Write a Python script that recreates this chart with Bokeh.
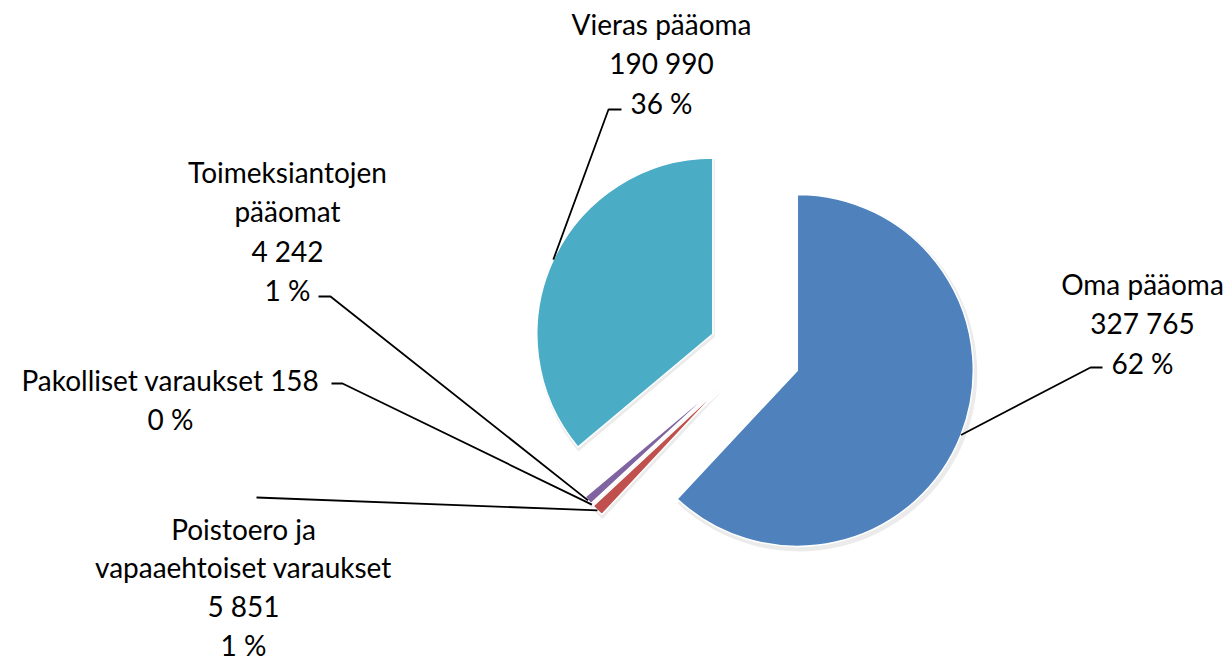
import math
from bokeh.plotting import figure
from bokeh.models import Range1d, ColumnDataSource
from bokeh.core.properties import value
from bokeh.embed import file_html
from bokeh.resources import INLINE

# ---- data ----
categories = ["Oma pääoma", "Poistoero ja vapaaehtoiset varaukset",
              "Pakolliset varaukset", "Toimeksiantojen pääomat", "Vieras pääoma"]
values = [327765, 5851, 158, 4242, 190990]
label_name_lines = [["Oma pääoma"], ["Poistoero ja", "vapaaehtoiset varaukset"],
                    ["Pakolliset varaukset"], ["Toimeksiantojen", "pääomat"],
                    ["Vieras pääoma"]]
value_on_name_line = [False, False, True, False, False]
colors = ["#4F81BD", "#C0504D", "#9BBB59", "#8064A2", "#4BACC6"]

# ---- layout (screen px, y down) ----
W, H = 1232, 661
CX, CY = 754, 353
R = 176
EXPLODE = 46
FONT = "Lato"
FS = "28px"
LINE_H = [39.5, 38.8, 39.5, 39.5, 39.5]
label_centers = [(1142, 283), (243, 528), (170, 379), (287, 171), (661, 23)]
# leader path start points (label side) incl. elbow
leader_starts = [[(1102, 367), (1090, 367)],
                 [(256, 497)],
                 [(331, 383), (342, 383)],
                 [(318, 296), (330, 296)],
                 [(621, 109), (608, 109)]]

def fmt(v):
    return f"{v:,}".replace(",", " ")

total = sum(values)
p = figure(width=W, height=H, output_backend="svg", toolbar_location=None,
           x_range=Range1d(0, W), y_range=Range1d(0, H), min_border=0)
p.axis.visible = False
p.grid.visible = False
p.outline_line_color = None
p.background_fill_color = "white"

cum = 0.0
xs, ys, sa, ea = [], [], [], []
edge_pts = []
for v in values:
    a0 = cum / total * 2 * math.pi
    cum += v
    a1 = cum / total * 2 * math.pi
    mid = (a0 + a1) / 2
    dx, dy = math.sin(mid), math.cos(mid)  # y up
    cx = CX + EXPLODE * dx
    cy = (H - CY) + EXPLODE * dy
    xs.append(cx); ys.append(cy)
    sa.append(math.pi / 2 - a0); ea.append(math.pi / 2 - a1)
    edge_pts.append((cx + R * dx, cy + R * dy))

# soft shadow
p.wedge(x=[x + 2 for x in xs], y=[y - 3 for y in ys], radius=R + 2,
        start_angle=sa, end_angle=ea, direction="clock",
        fill_color="#000000", fill_alpha=0.08, line_color=None)
src = ColumnDataSource(dict(x=xs, y=ys, sa=sa, ea=ea, c=colors))
p.wedge(x="x", y="y", radius=R, start_angle="sa", end_angle="ea",
        direction="clock", fill_color="c", line_color="white", line_width=1.5,
        source=src)

# leader lines
for i in range(len(values)):
    lx = [pt[0] for pt in leader_starts[i]] + [edge_pts[i][0]]
    ly = [H - pt[1] for pt in leader_starts[i]] + [edge_pts[i][1]]
    p.line(lx, ly, line_color="black", line_width=1.8)

# labels
tx, ty, tt = [], [], []
for i, v in enumerate(values):
    pct = f"{round(v / total * 100)} %"
    lines = list(label_name_lines[i])
    if value_on_name_line[i]:
        lines[-1] = lines[-1] + " " + fmt(v)
    else:
        lines.append(fmt(v))
    lines.append(pct)
    x0, y0 = label_centers[i]
    for k, ln in enumerate(lines):
        tx.append(x0); ty.append(H - (y0 + k * LINE_H[i])); tt.append(ln)
p.text(x=tx, y=ty, text=tt, text_font=value(FONT), text_font_size=FS,
       text_align="center", text_baseline="middle", text_color="black")

open("out.html", "w").write(file_html(p, INLINE))
